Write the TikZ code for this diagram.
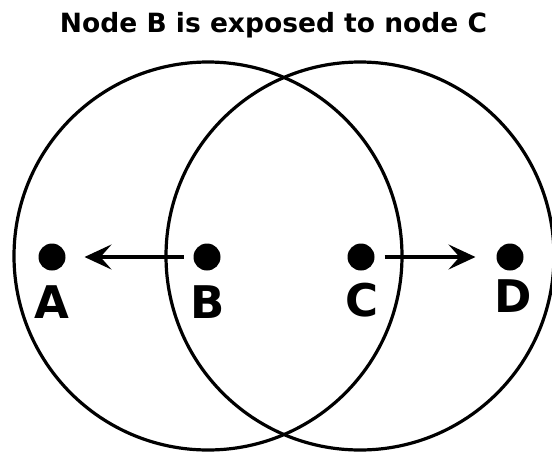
\documentclass[tikz,border=0pt]{standalone}
\usepackage{fontspec}
\setmainfont{DejaVu Sans}
\usetikzlibrary{arrows.meta}

\begin{document}
\begin{tikzpicture}[x=1pt, y=-1pt,
    dot/.style={circle, fill=black, inner sep=0pt, minimum size=27pt, outer sep=0pt},
    letter/.style={font=\fontsize{45}{45}\selectfont\bfseries, anchor=base},
    exposure/.style={-{Stealth[length=27pt, width=25pt, inset=11pt]}, line width=3.2pt}]

    \useasboundingbox (0,0) rectangle (552,451);

    \node[font=\fontsize{26.5}{26.5}\selectfont\bfseries, anchor=base] (title) at (273.5, 32.5) {Node B is exposed to node C};

    % ranges of B and C
    \draw[line width=3.2pt] (208, 256) circle (194);
    \draw[line width=3.2pt] (360, 256) circle (194);

    \node[dot] (a) at (52, 257) {};
    \node[dot] (b) at (207, 257) {};
    \node[dot] (c) at (361, 257) {};
    \node[dot] (d) at (510, 257) {};

    \node[letter] (alabel) at (52, 318) {A};
    \node[letter] (blabel) at (208, 318) {B};
    \node[letter] (clabel) at (362, 316) {C};
    \node[letter] (dlabel) at (513, 312) {D};

    \draw[exposure, shorten <=10pt, shorten >=19pt] (b) -- (a);
    \draw[exposure, shorten <=10pt, shorten >=21pt] (c) -- (d);

\end{tikzpicture}
\end{document}
